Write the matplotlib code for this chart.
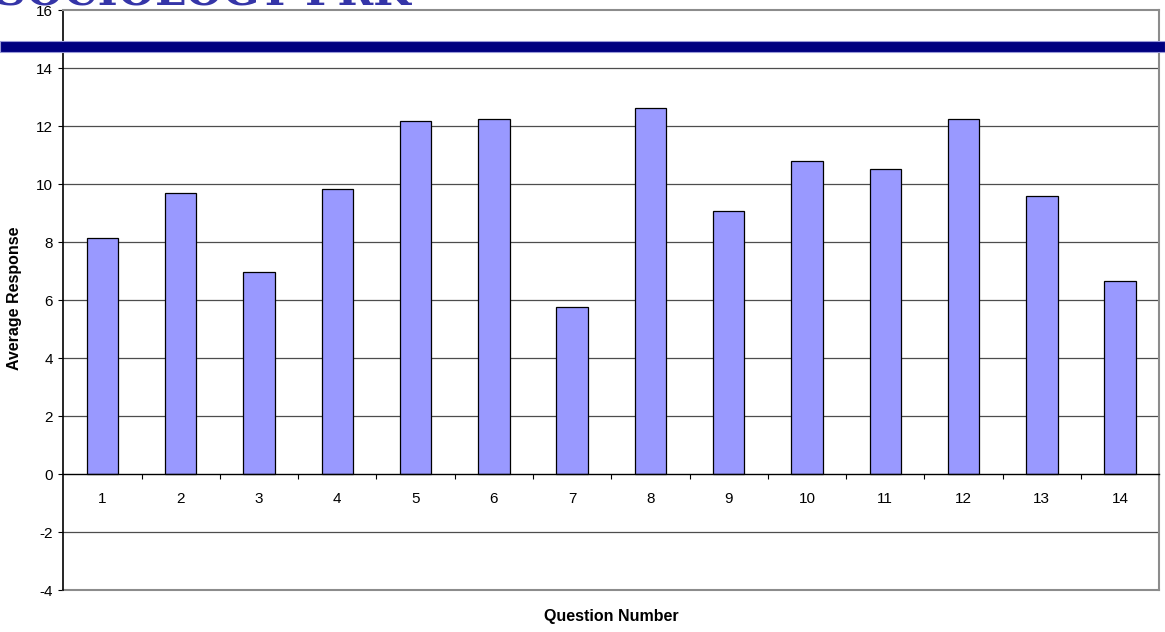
import matplotlib
matplotlib.use("Agg")
import matplotlib.pyplot as plt
from matplotlib.patches import Rectangle

# average response per survey question
questions = list(range(1, 15))
avg_response = [8.16, 9.69, 6.97, 9.83, 12.18, 12.25, 5.76,
                12.64, 9.08, 10.81, 10.52, 12.25, 9.60, 6.67]
y_ticks = list(range(-4, 17, 2))

plt.rcParams['font.family'] = ['Liberation Sans', 'DejaVu Sans']

fig = plt.figure(figsize=(11.65, 6.32), dpi=100)
ax = fig.add_axes([0.0543, 0.066, 0.9408, 0.9177])
ax.patch.set_alpha(0)

# banner heading (only its lower edge shows above the plot)
fig.text(-0.004, 1 - 6 / 632, "SOCIOLOGY PRK", family='DejaVu Serif', weight='bold',
         fontsize=31, color='#3535a8', ha='left', va='baseline', zorder=0)
fig.add_artist(Rectangle((0, 1 - 51.5 / 632), 1, 10.5 / 632, transform=fig.transFigure,
                         facecolor='#000080', edgecolor='#9a9ad8', linewidth=0.8, zorder=5))

ax.bar(questions, avg_response, width=0.4, color='#9999FF', edgecolor='black',
       linewidth=0.9, zorder=3)

ax.set_xlim(0.5, 14.5)
ax.set_ylim(-4, 16)
ax.set_yticks(y_ticks)
ax.set_yticklabels([str(v) for v in y_ticks])

# horizontal gridlines, zero line and frame
for v in y_ticks:
    if v in (0, -4, 16):
        continue
    ax.axhline(v, color='#4d4d4d', linewidth=0.9, zorder=1)
ax.axhline(-4, color='#8c8c8c', linewidth=1.5, zorder=2, clip_on=False)

ax.spines['bottom'].set_position(('data', 0))
ax.spines['bottom'].set_color('black')
ax.spines['bottom'].set_linewidth(1.0)
ax.spines['bottom'].set_zorder(4)
ax.spines['left'].set_color('black')
ax.spines['left'].set_linewidth(1.2)
ax.spines['top'].set_color('#8c8c8c')
ax.spines['top'].set_linewidth(1.5)
ax.spines['right'].set_color('#8c8c8c')
ax.spines['right'].set_linewidth(1.5)

# ticks between categories, labels at category centres
ax.set_xticks([q + 0.5 for q in questions[:-1]])
ax.set_xticklabels([])
ax.set_xticks(questions, minor=True)
ax.set_xticklabels([str(q) for q in questions], minor=True)
ax.tick_params(axis='x', which='major', direction='out', length=3.6, width=0.8, color='black')
ax.tick_params(axis='x', which='minor', length=0, pad=13, labelsize=11)
ax.tick_params(axis='y', direction='out', length=3.6, width=0.8, pad=4, labelsize=11)

fig.text(0.5246, 1 - 617 / 632, "Question Number", ha='center', va='center',
         fontsize=11.5, weight='bold')
fig.text(15 / 1165, 1 - 298 / 632, "Average Response", ha='center', va='center',
         rotation=90, fontsize=11.5, weight='bold')

fig.savefig("out.png", dpi=100)
